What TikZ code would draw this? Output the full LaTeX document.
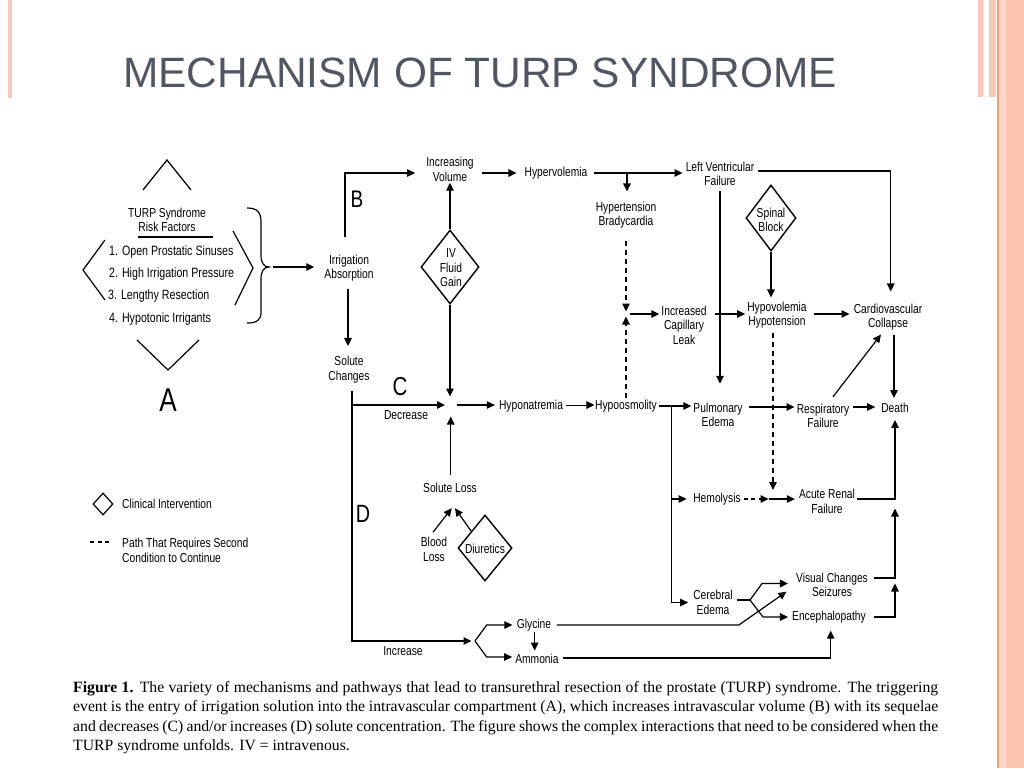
\documentclass[tikz,border=0pt]{standalone}
\usepackage{fontspec}
\setmainfont{Liberation Sans}
\newfontfamily\dfont[FakeStretch=0.79]{Liberation Sans}
\newfontfamily\capfont{Liberation Serif}
\usetikzlibrary{arrows.meta,shapes.geometric,calc}
\definecolor{titlegray}{RGB}{80,86,98}
\definecolor{stripe}{RGB}{250,198,182}
\definecolor{band}{RGB}{252,197,174}
\definecolor{bandlight}{RGB}{253,214,198}
\definecolor{bandline}{RGB}{240,160,120}
\begin{document}
\begin{tikzpicture}[x=1pt,y=-1pt,
  txt/.style={font=\dfont\fontsize{13}{14.5}\selectfont, align=center, inner sep=0pt},
  ln/.style={line width=1.2pt},
  arr/.style={line width=1.2pt, -{Triangle[length=8pt,width=7.5pt]}},
  dsh/.style={dash pattern=on 5pt off 4pt},
  dia/.style={shape=diamond, draw, line width=1.4pt, inner sep=0pt},
  biglet/.style={font=\dfont\fontsize{25}{25}\selectfont, inner sep=0pt}]
\useasboundingbox (0,0) rectangle (1024,768);
\fill[white] (0,0) rectangle (1024,768);
% slide decoration
\fill[stripe] (8,0) rectangle (12,98);
\fill[stripe] (978,0) rectangle (983,97);
\fill[stripe] (989,0) rectangle (996,97);
\fill[band] (997,0) rectangle (1024,768);
\fill[bandlight] (999,0) rectangle (1006,768);
\fill[bandline] (997,0) rectangle (998.8,768);
% title
\node[anchor=base west, inner sep=0pt, font=\fontsize{42.4}{44}\selectfont, text=titlegray] (title) at (123,87) {MECHANISM OF TURP SYNDROME};
% risk factors
\draw[ln] (143,190) -- (167,160) -- (191,190);
\draw[ln] (105,240) -- (83,270) -- (105,300);
\draw[ln] (233,231) -- (253,268) -- (235,305);
\draw[ln] (137,340) -- (168,370) -- (199,340);
\node[txt] (rft) at (167,220) {TURP Syndrome\\Risk Factors};
\draw[ln] (138,237) -- (213,237);
\node[txt, anchor=west, font=\dfont\fontsize{13.5}{15}\selectfont] (rf1) at (109,252) {1. Open Prostatic Sinuses};
\node[txt, anchor=west, font=\dfont\fontsize{13.5}{15}\selectfont] (rf2) at (109,274) {2. High Irrigation Pressure};
\node[txt, anchor=west, font=\dfont\fontsize{13.5}{15}\selectfont] (rf3) at (108,296) {3. Lengthy Resection};
\node[txt, anchor=west, font=\dfont\fontsize{13.5}{15}\selectfont] (rf4) at (109,319) {4. Hypotonic Irrigants};
\draw[ln] (247,208) .. controls (257,208) and (261,212) .. (261,222) -- (261,255)
  .. controls (261,263) and (264,267) .. (269,267)
  .. controls (264,267) and (261,271) .. (261,279) -- (261,312)
  .. controls (261,320) and (257,323) .. (247,323);
\node[biglet, font=\dfont\fontsize{33}{33}\selectfont] (labA) at (168,400) {A};
\coordinate (bracetip) at (273,267);
% main nodes
\node[txt] (irrabs) at (349,268) {Irrigation\\Absorption};
\node[txt] (solch) at (349,369.5) {Solute\\Changes};
\node[txt] (incvol) at (450,169.5) {Increasing\\Volume};
\node[txt] (hyperv) at (556,173) {Hypervolemia};
\node[txt] (htbc) at (626,215) {Hypertension\\Bradycardia};
\node[txt] (lvf) at (720,174) {Left Ventricular\\Failure};
\node[dia, minimum width=58pt, minimum height=74pt] (ivfg) at (450,267) {};
\node[txt] (ivfgt) at (451,268) {IV\\Fluid\\Gain};
\node[dia, minimum width=50pt, minimum height=66pt] (spinal) at (771,218) {};
\node[txt] (spinalt) at (771,220) {Spinal\\Block};
\node[txt] (icl) at (684,325) {Increased\\Capillary\\Leak};
\node[txt] (hypov) at (777,315) {Hypovolemia\\Hypotension};
\node[txt] (cvc) at (888,317) {Cardiovascular\\Collapse};
\node[txt] (hypona) at (531,406.5) {Hyponatremia};
\node[txt] (hypoos) at (626,406) {Hypoosmolity};
\node[txt] (pulm) at (718,415) {Pulmonary\\Edema};
\node[txt] (resp) at (823,416) {Respiratory\\Failure};
\node[txt] (death) at (895,408) {Death};
\node[txt] (soluteloss) at (450,487.5) {Solute Loss};
\node[txt] (blood) at (434,549.5) {Blood\\Loss};
\node[dia, minimum width=54pt, minimum height=66pt] (diur) at (485,548) {};
\node[txt] (diurt) at (485,549) {Diuretics};
\node[txt] (hemo) at (717,499) {Hemolysis};
\node[txt] (arf) at (827,501.5) {Acute Renal\\Failure};
\node[txt] (cere) at (713,602.5) {Cerebral\\Edema};
\node[txt] (visual) at (832,585) {Visual Changes\\Seizures};
\node[txt] (enceph) at (829,617) {Encephalopathy};
\node[txt] (glycine) at (534,625) {Glycine};
\node[txt] (ammonia) at (537,659) {Ammonia};
\node[txt] (decr) at (406,415.5) {Decrease};
\node[txt] (incr) at (403,651.5) {Increase};
\node[biglet, font=\dfont\fontsize{24}{24}\selectfont] (labB) at (357,199) {B};
\node[biglet, font=\dfont\fontsize{26}{26}\selectfont] (labC) at (400,387) {C};
\node[biglet] (labD) at (363,514) {D};
% junction coordinates
\coordinate (junction) at (450,405);
\coordinate (icljoin) at (626,314);
\coordinate (renaljoin) at (773,499);
\coordinate (vbranch) at (671.7,406);
\coordinate (cerefork) at (750,600);
\coordinate (forkD) at (475,641);
\coordinate (solstart) at ($(solch.south)+(3,8)$);
% connectors
\draw[arr] (bracetip) -- ($(irrabs.west |- bracetip)+(-10,0)$);
\draw[arr] ($(irrabs.south)+(-1,7)$) -- ($(solch.north)+(-1,-10)$);
\draw[arr] ($(irrabs.north)+(-4,-17)$) |- ($(incvol.west)+(-11,3.5)$);
\draw[arr] ($(incvol.east |- hyperv.west)+(8,0)$) -- ($(hyperv.west)+(-8,0)$);
\draw[arr] ($(hyperv.east)+(6,0)$) -- ($(lvf.west |- hyperv.east)+(-3,0)$);
\draw[arr] ($(htbc.north |- hyperv.east)+(1,0)$) -- ($(htbc.north)+(1,-10)$);
\draw[arr,dsh] ($(htbc.south)+(0,12)$) -- ($(icljoin)+(0,-2.5)$);
\draw[arr,dsh] ($(hypoos.north)+(0,-2)$) -- ($(icljoin)+(0,2.5)$);
\draw[arr] ($(icljoin)+(4,0)$) -- ($(icl.west |- icljoin)+(-2,0)$);
\draw[arr] ($(icl.east |- icljoin)+(8.5,0)$) -- ($(hypov.west |- icljoin)+(-2,0)$);
\draw[arr] ($(hypov.east |- icljoin)+(7,0)$) -- ($(cvc.west |- icljoin)+(-4,0)$);
\draw[arr] ($(lvf.east)+(4,-3)$) -| ($(cvc.north)+(2.7,-12)$);
\draw[arr] ($(lvf.south)+(0,5)$) -- ($(lvf.south |- pulm.north)+(0,-19)$);
\draw[arr] (spinal.south) -- ($(spinal.south |- hypov.north)+(0,-4)$);
\draw[arr,dsh] ($(hypov.south -| renaljoin)+(0,4)$) -- ($(renaljoin)+(0,-9)$);
\draw[arr] ($(death.north |- cvc.south)+(-1,4)$) -- ($(death.north)+(-1,-5)$);
\draw[arr] ($(pulm.east)+(6,-8)$) -- ($(resp.west |- pulm.east)+(-2,-8)$);
\draw[arr] ($(resp.east |- death.west)+(4,-1)$) -- ($(death.west)+(-6,-1)$);
\draw[arr] ($(resp.north)+(10,-7)$) -- ($(cvc.south)+(-7,4)$);
\draw[arr] ($(arf.east)+(2,-2.5)$) -| ($(death.south)+(0,7)$);
\draw[arr] ($(visual.east)+(6,-7)$) -| ($(death.south |- arf.east)+(0,7)$);
\draw[arr] ($(enceph.east)+(8,0)$) -| ($(death.south |- visual.east)+(0,-1.5)$);
\draw[arr] (solstart |- junction) -- ($(junction)+(-5,0)$);
\draw[arr] (solstart) |- ($(forkD)+(-3.5,0)$);
\draw[arr] (ivfg.north) -- ($(incvol.south)+(0,1)$);
\draw[arr] (ivfg.south) -- ($(junction)+(0,-8.5)$);
\draw[arr] ($(junction)+(6.5,0)$) -- ($(hypona.west |- junction)+(-4,0)$);
\draw[arr] ($(soluteloss.north)+(0.7,-8)$) -- ($(junction)+(0.7,11.5)$);
\draw[arr, line width=0.9pt] ($(hypona.east |- junction)+(2.5,0)$) -- ($(hypoos.west |- junction)+(-0.5,0)$);
\draw[arr] ($(hypoos.east |- vbranch)+(2,0)$) -- ($(pulm.west |- vbranch)+(-2,0)$);
\draw[arr] (vbranch) |- ($(cere.west)+(-5,0)$);
\draw[arr] (vbranch |- hemo.west) -- ($(hemo.west)+(-6.5,0)$);
\draw[arr,dash pattern=on 4pt off 3.5pt] ($(hemo.east)+(3,0)$) -- ($(renaljoin |- hemo.east)+(-4.5,0)$);
\draw[arr] ($(renaljoin |- hemo.east)+(-4.5,0)$) -- ($(arf.west |- hemo.east)+(-4,0)$);
\draw[ln] ($(cere.east)+(4,-2.5)$) -- (cerefork);
\draw[arr] (cerefork) -- ++(12,-16.5) -- ($(visual.west)+(-8,-1.5)$);
\draw[arr] (cerefork) -- ++(13,17) -- ($(enceph.west)+(-4,0)$);
\draw[arr] ($(glycine.east)+(5.5,0)$) -- ++(182,0) -- ($(visual.west)+(-9.5,6.7)$);
\draw[arr] ($(ammonia.east)+(4.5,-1)$) -| ($(enceph.south)+(1.7,7.4)$);
\draw[arr] (forkD) -- ++(11.7,-16) -- ($(glycine.west)+(-4.3,0)$);
\draw[arr] (forkD) -- ++(11.7,16) -- ($(ammonia.west)+(-3,-2)$);
\draw[arr] ($(glycine.south)+(0.7,1)$) -- ($(glycine.south |- ammonia.north)+(0.7,-3.4)$);
\draw[arr] ($(blood.north)+(-1,-5)$) -- ($(soluteloss.south)+(1.7,15.7)$);
\draw[arr] (diur.north west) -- ($(soluteloss.south)+(5,15.7)$);
% legend
\node[dia, minimum width=20pt, minimum height=22pt, line width=1.2pt] (legdia) at (103,504) {};
\node[txt, anchor=west] (legci) at (122,504) {Clinical Intervention};
\node[txt, anchor=west, align=left] (legpath) at (122,550.5) {Path That Requires Second\\Condition to Continue};
\draw[ln, dash pattern=on 4pt off 3.5pt] ($(legpath.west)+(-32,-8.5)$) -- ($(legpath.west)+(-13,-8.5)$);
% caption
\node[anchor=base west, inner sep=0pt, font=\capfont\fontsize{15.7}{19.5}\selectfont] (cap1) at (73,692) {\makebox[865pt][s]{\textbf{Figure 1.} The variety of mechanisms and pathways that lead to transurethral resection of the prostate (TURP) syndrome. The triggering}};
\node[anchor=base west, inner sep=0pt, font=\capfont\fontsize{15.7}{19.5}\selectfont] (cap2) at (73,711.5) {\makebox[865pt][s]{event is the entry of irrigation solution into the intravascular compartment (A), which increases intravascular volume (B) with its sequelae}};
\node[anchor=base west, inner sep=0pt, font=\capfont\fontsize{15.7}{19.5}\selectfont] (cap3) at (73,731) {\makebox[865pt][s]{and decreases (C) and/or increases (D) solute concentration. The figure shows the complex interactions that need to be considered when the}};
\node[anchor=base west, inner sep=0pt, font=\capfont\fontsize{15.7}{19.5}\selectfont] (cap4) at (73,750.5) {TURP syndrome unfolds. IV = intravenous.};
\end{tikzpicture}
\end{document}
